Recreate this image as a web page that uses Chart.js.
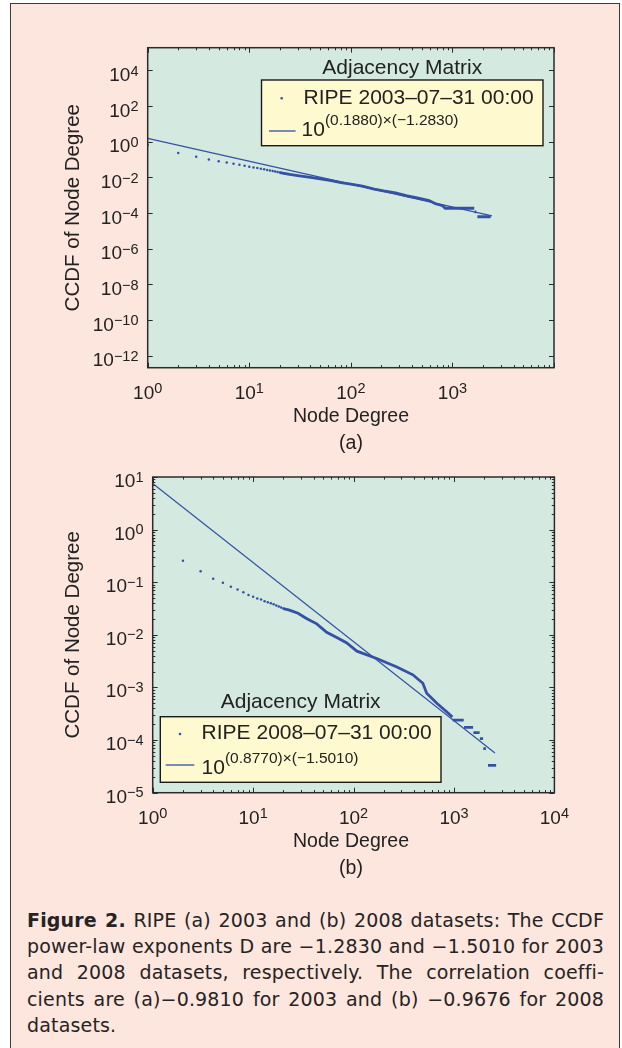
<!DOCTYPE html>
<html>
<head>
<meta charset="utf-8">
<script src="https://cdn.jsdelivr.net/npm/chart.js@4.4.1/dist/chart.umd.min.js"></script>
<style>
  html, body { margin:0; padding:0; background:#ffffff; width:622px; height:1048px; overflow:hidden; }
  #frame { position:absolute; left:10px; top:3px; width:610px; height:1100px; box-sizing:border-box;
           border:1.6px solid #3b3b3b; background:#fde6dd; }
  canvas { position:absolute; left:0; }
  #c1 { top:0; }
  #c2 { top:460px; }
  #cap { position:absolute; left:27px; top:907px; width:577px; font-family:"DejaVu Sans", sans-serif;
         font-size:19px; line-height:26.2px; color:#262324; }
  #cap .j { text-align:justify; text-align-last:justify; }
  #cap b { font-weight:700; }
  #meas { position:absolute; visibility:hidden; white-space:nowrap; font-family:"DejaVu Sans", sans-serif; font-size:19px; }
</style>
</head>
<body>
<div id="frame"></div>
<canvas id="c1" width="622" height="460"></canvas>
<canvas id="c2" width="622" height="430"></canvas>
<div id="cap">
  <div class="j"><b>Figure 2.</b> RIPE (a) 2003 and (b) 2008 datasets: The CCDF</div>
  <div class="j" id="line2">power-law exponents D are −1.2830 and −1.5010 for 2003</div>
  <div class="j">and 2008 datasets, respectively. The correlation coeffi-</div>
  <div class="j">cients are (a)−0.9810 for 2003 and (b) −0.9676 for 2008</div>
  <div>datasets.</div>
</div>
<span id="meas"></span>
<script>
// ---------------- DATA ----------------
// (a) RIPE 2003-07-31: node degree and CCDF value
const degree2003 = [1,2,3,4,5,6,7,8,9,10,11,12,13,14,15,16,17,18,19,20,
  25,30,40,50,62,80,100,130,170,210,275,350,450,590,680,800,850,1640,1650,1720,1760,2380];
const ccdf2003 = [0.646,0.229,0.145,0.102,0.0813,0.0692,0.0575,0.0513,0.0447,0.0398,0.0363,0.0331,0.0302,0.0282,0.0263,0.0245,0.0229,0.0214,0.0200,0.0186,
  0.0148,0.0126,0.0100,0.00832,0.00676,0.00513,0.00417,0.00324,0.00219,0.00174,0.00135,9.5e-4,7.1e-4,5.0e-4,3.3e-4,2.6e-4,1.86e-4,1.86e-4,1.17e-4,1.17e-4,6.2e-5,6.2e-5];
// fitted power law 10^(0.1880) x^(-1.2830), end points
const fitDegree2003 = [1, 2450];
const fitCcdf2003 = [1.54, 6.9e-5];

// (b) RIPE 2008-07-31
const degree2008 = [1,2,3,4,5,6,7,8,9,10,11,12,13,14,15,16,17,18,19,20,
  23,28,34,43,54,68,85,108,170,270,390,490,535,675,840,965,970,1250,1260,1550,1560,1800,1810,1950,1960,2080,2180,2630];
const ccdf2008 = [0.655,0.257,0.162,0.117,0.0977,0.0822,0.0724,0.0646,0.0575,0.0531,0.0490,0.0468,0.0437,0.0417,0.0398,0.0380,0.0363,0.0347,0.0331,0.0316,
  0.0295,0.0257,0.0204,0.0162,0.0112,0.00891,0.00708,0.00490,0.00355,0.00245,0.00174,0.00120,7.8e-4,5.0e-4,3.5e-4,2.75e-4,2.4e-4,2.4e-4,1.74e-4,1.74e-4,1.38e-4,1.38e-4,1.07e-4,1.07e-4,6.9e-5,6.9e-5,3.3e-5,3.3e-5];
// fitted power law 10^(0.8770) x^(-1.5010), end points
const fitDegree2008 = [1, 2560];
const fitCcdf2008 = [7.53, 5.7e-5];

// tick labels (powers of ten)
const xTickExp2003 = [0, 1, 2, 3];
const yTickExp2003 = [4, 2, 0, -2, -4, -6, -8, -10, -12];
const xTickExp2008 = [0, 1, 2, 3, 4];
const yTickExp2008 = [1, 0, -1, -2, -3, -4, -5];

const legendTitle = 'Adjacency Matrix';
const seriesName2003 = 'RIPE 2003–07–31 00:00';
const seriesName2008 = 'RIPE 2008–07–31 00:00';
const fitBase = '10';
const fitExp2003 = '(0.1880)×(−1.2830)';
const fitExp2008 = '(0.8770)×(−1.5010)';
const xTitle = 'Node Degree';
const yTitle = 'CCDF of Node Degree';

// ---------------- caption fitting ----------------
(function () {
  const m = document.getElementById('meas');
  m.textContent = document.getElementById('line2').textContent;
  const w = m.getBoundingClientRect().width;
  const n = m.textContent.length;
  const ls = Math.max(0, (574 - w) / n);
  document.getElementById('cap').style.letterSpacing = ls.toFixed(3) + 'px';
})();

// ---------------- STYLE ----------------
const BLUE = '#3451a6';
const AX = '#2b2b2b';
const SANS = '"Liberation Sans", Arial, Helvetica, sans-serif';
const SPARSE_MAX = 20;

function expStr(e) { return e < 0 ? '−' + Math.abs(e) : String(e); }

function supText(ctx, base, exp, x, y, align, bf, ef, raise) {
  ctx.font = bf; const wb = ctx.measureText(base).width;
  ctx.font = ef; const we = ctx.measureText(exp).width;
  let sx = x;
  if (align === 'right') sx = x - wb - we;
  else if (align === 'center') sx = x - (wb + we) / 2;
  ctx.textAlign = 'left'; ctx.textBaseline = 'alphabetic';
  ctx.font = bf; ctx.fillText(base, sx, y);
  ctx.font = ef; ctx.fillText(exp, sx + wb, y - raise);
}

const matlabPlugin = {
  id: 'matlab',
  beforeDraw(chart, args, o) {
    const { ctx, chartArea: a } = chart;
    ctx.save();
    ctx.fillStyle = '#d4eae0';
    ctx.fillRect(a.left, a.top, a.right - a.left, a.bottom - a.top);
    ctx.restore();
  },
  afterDatasetsDraw(chart, args, o) {
    const { ctx, chartArea: a } = chart;
    const xs = chart.scales.x, ys = chart.scales.y;
    ctx.save();
    // ---- ticks (inward, all four sides) ----
    ctx.strokeStyle = AX; ctx.lineWidth = 1;
    ctx.beginPath();
    const MJ = 5, MN = 2.6;
    const xmin = Math.log10(xs.min), xmax = Math.log10(xs.max);
    for (let e = Math.floor(xmin); e <= Math.ceil(xmax); e++) {
      for (let m = 1; m <= 9; m++) {
        const v = m * Math.pow(10, e);
        if (v < xs.min * 0.999 || v > xs.max * 1.001) continue;
        const px = Math.round(xs.getPixelForValue(v)) + 0.5;
        const L = m === 1 ? MJ : MN;
        ctx.moveTo(px, a.bottom); ctx.lineTo(px, a.bottom - L);
        ctx.moveTo(px, a.top); ctx.lineTo(px, a.top + L);
      }
    }
    const ymin = Math.log10(ys.min), ymax = Math.log10(ys.max);
    for (let e = Math.floor(ymin); e <= Math.ceil(ymax); e++) {
      for (let m = 1; m <= 9; m++) {
        if (m > 1 && !o.yMinor) continue;
        if (m === 1 && o.yMajorExps.indexOf(e) < 0) continue;
        const v = m * Math.pow(10, e);
        if (v < ys.min * 0.999 || v > ys.max * 1.001) continue;
        const py = Math.round(ys.getPixelForValue(v)) + 0.5;
        const L = m === 1 ? MJ : MN;
        ctx.moveTo(a.left, py); ctx.lineTo(a.left + L, py);
        ctx.moveTo(a.right, py); ctx.lineTo(a.right - L, py);
      }
    }
    ctx.stroke();
    ctx.lineWidth = 1.5;
    ctx.strokeRect(a.left, a.top, a.right - a.left, a.bottom - a.top);

    // ---- tick labels ----
    ctx.fillStyle = '#222';
    const bf = '19px ' + SANS, ef = '14.5px ' + SANS;
    for (const e of o.xLabelExps) {
      const px = xs.getPixelForValue(Math.pow(10, e));
      supText(ctx, '10', expStr(e), px, a.bottom + 31.3, 'center', bf, ef, 5.6);
    }
    for (const e of o.yLabelExps) {
      const py = ys.getPixelForValue(Math.pow(10, e));
      supText(ctx, '10', expStr(e), a.left - 9.2, py + o.yLabelDy, 'right', bf, ef, 5.4);
    }

    // ---- axis titles ----
    ctx.font = '19.5px ' + SANS; ctx.textAlign = 'center'; ctx.textBaseline = 'alphabetic';
    ctx.fillText(xTitle, o.xTitleX, o.xTitleY);
    ctx.fillText(o.sub, o.xTitleX, o.subY);
    ctx.save();
    ctx.translate(o.yTitleX, (a.top + a.bottom) / 2);
    ctx.rotate(-Math.PI / 2);
    ctx.font = '20.5px ' + SANS; ctx.textBaseline = 'middle';
    ctx.fillText(yTitle, 0, 0);
    ctx.restore();

    // ---- legend ----
    const L = o.leg;
    ctx.fillStyle = '#fff9cf';
    ctx.fillRect(L.l, L.t, L.r - L.l, L.b - L.t);
    ctx.strokeStyle = '#1a1a1a'; ctx.lineWidth = 1.4;
    ctx.strokeRect(L.l, L.t, L.r - L.l, L.b - L.t);
    ctx.fillStyle = '#222';
    ctx.font = '21px ' + SANS; ctx.textAlign = 'center'; ctx.textBaseline = 'alphabetic';
    ctx.fillText(legendTitle, (L.l + L.r) / 2, L.titleY);
    // data marker
    ctx.fillStyle = BLUE;
    ctx.beginPath(); ctx.arc(L.dotX, L.dotY, 1.3, 0, Math.PI * 2); ctx.fill();
    ctx.fillStyle = '#222';
    ctx.textAlign = 'left';
    ctx.fillText(o.series, L.textX, L.row1Y);
    // fit sample
    ctx.strokeStyle = BLUE; ctx.lineWidth = 1.3;
    ctx.beginPath(); ctx.moveTo(L.lineX0, L.lineY); ctx.lineTo(L.lineX1, L.lineY); ctx.stroke();
    supText(ctx, fitBase, o.fitExp, L.textX2, L.row2Y, 'left', '21px ' + SANS, '15.5px ' + SANS, 10.8);
    ctx.restore();
  }
};

function buildChart(id, degs, vals, fdeg, fval, yMin, yMax, pad, opts) {
  const pts = degs.map((d, i) => ({ x: d, y: vals[i] }));
  const fit = fdeg.map((d, i) => ({ x: d, y: fval[i] }));
  return new Chart(document.getElementById(id), {
    type: 'scatter',
    data: {
      datasets: [
        {
          label: 'data', data: pts, showLine: true, borderColor: BLUE, borderWidth: 2.8,
          pointRadius: c => (c.raw && c.raw.x <= SPARSE_MAX ? 1.25 : 0),
          pointBackgroundColor: BLUE, pointBorderWidth: 0, pointHoverRadius: 0,
          borderCapStyle: 'butt',
          segment: {
            borderColor: c => {
              if (c.p0.parsed.x < SPARSE_MAX) return 'rgba(0,0,0,0)';
              // consecutive degrees: a jump in CCDF is not a drawn line
              if (c.p1.parsed.y !== c.p0.parsed.y && c.p1.parsed.x / c.p0.parsed.x < 1.06) return 'rgba(0,0,0,0)';
              return BLUE;
            }
          }
        },
        { label: 'fit', data: fit, showLine: true, borderColor: BLUE, borderWidth: 1.2, pointRadius: 0 }
      ]
    },
    options: {
      responsive: false, animation: false, devicePixelRatio: 1,
      layout: { padding: pad },
      plugins: { legend: { display: false }, tooltip: { enabled: false }, matlab: opts },
      scales: {
        x: { type: 'logarithmic', min: 1, max: 1e4, display: false },
        y: { type: 'logarithmic', min: yMin, max: yMax, display: false }
      }
    },
    plugins: [matlabPlugin]
  });
}

buildChart('c1', degree2003, ccdf2003, fitDegree2003, fitCcdf2003, 2.14e-13, 1.86e5,
  { left: 147.7, top: 47.7, right: 68, bottom: 92.3 },
  { xLabelExps: xTickExp2003, yLabelExps: yTickExp2003, yMajorExps: yTickExp2003, yMinor: false,
    yLabelDy: 10.7, xTitleX: 351, xTitleY: 421.7, sub: '(a)', subY: 449, yTitleX: 73.5,
    series: seriesName2003, fitExp: fitExp2003,
    leg: { l: 261.5, r: 543, t: 80, b: 145.7, titleY: 74, dotX: 281.7, dotY: 98.3, textX: 303.6, row1Y: 104,
           lineX0: 269, lineX1: 295.6, lineY: 131, textX2: 301.6, row2Y: 136 } });

buildChart('c2', degree2008, ccdf2008, fitDegree2008, fitCcdf2008, 1e-5, 10,
  { left: 152.7, top: 17, right: 67.6, bottom: 97.3 },
  { xLabelExps: xTickExp2008, yLabelExps: yTickExp2008, yMajorExps: yTickExp2008, yMinor: true,
    yLabelDy: 10, xTitleX: 351, xTitleY: 386.7, sub: '(b)', subY: 414, yTitleX: 73.5,
    series: seriesName2008, fitExp: fitExp2008,
    leg: { l: 160.3, r: 441, t: 256.7, b: 322.3, titleY: 248.3, dotX: 180, dotY: 274, textX: 201.6, row1Y: 279,
           lineX0: 165.7, lineX1: 194.3, lineY: 305, textX2: 201.6, row2Y: 314 } });
</script>
</body>
</html>
